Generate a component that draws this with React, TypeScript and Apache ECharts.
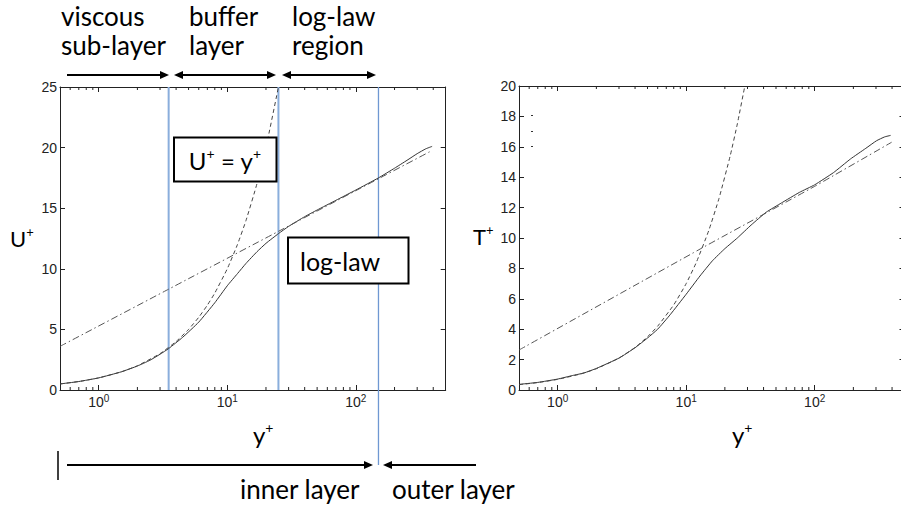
import React, { useEffect, useRef } from 'react';
import * as echarts from 'echarts';

// ---------- data ----------
// left panel: U+ vs y+
const uProfile: number[][] = [
  [0.5, 0.5], [0.7, 0.7], [1, 1], [1.5, 1.5], [2, 1.98], [2.5, 2.45], [3, 2.95], [3.5, 3.42],
  [4.5, 4.35], [6, 5.6], [8, 7.2], [10, 8.6], [12, 9.6], [14, 10.45], [17, 11.4], [20, 12.1],
  [25, 12.9], [30, 13.5], [40, 14.3], [50, 14.85], [70, 15.65], [100, 16.5], [150, 17.5],
  [200, 18.3], [250, 18.95], [300, 19.5], [350, 19.9], [392, 20.1],
];
const uViscous: number[][] = [
  [0.5, 0.5], [0.7, 0.7], [1, 1], [1.5, 1.5], [2, 2], [3, 3], [4, 4], [5, 5], [6, 6], [7, 7],
  [8, 8], [10, 10], [12, 12], [14, 14], [17, 17], [20, 20], [25, 25],
];
const uLogLaw: number[][] = [
  [0.5, 3.6], [3.5, 8.32], [25, 13.09], [150, 17.43], [390, 19.75],
];
// right panel: T+ vs y+
const tProfile: number[][] = [
  [0.5, 0.37], [0.7, 0.5], [1, 0.72], [1.3, 0.95], [1.6, 1.12], [2, 1.42], [3, 2.1], [4, 2.78],
  [5, 3.42], [6, 4.0], [7.5, 4.95], [10, 6.3], [12.8, 7.5], [16, 8.5], [20, 9.3], [25, 10.0],
  [32, 10.85], [42, 11.7], [55, 12.3], [76, 13.0], [100, 13.5], [140, 14.3], [190, 15.2],
  [250, 15.9], [303, 16.4], [350, 16.65], [390, 16.75],
];
const tViscous: number[][] = [
  [0.5, 0.35], [0.7, 0.49], [1, 0.7], [1.5, 1.05], [2, 1.4], [3, 2.1], [4, 2.8], [5, 3.5],
  [6, 4.2], [8, 5.6], [10, 7], [12, 8.4], [15, 10.5], [18, 12.6], [22, 15.4], [25, 17.5], [28.6, 20],
];
const tLogLaw: number[][] = [
  [0.5, 2.63], [13, 9.3], [100, 13.4], [397, 16.3],
];
// region boundaries (y+) drawn as blue verticals on the left panel
const regionBounds: number[] = [3.5, 25, 150];
// minor log ticks
const minorTicks: number[] = [0.6, 0.7, 0.8, 0.9, 2, 3, 4, 5, 6, 7, 8, 9, 20, 30, 40, 50, 60, 70, 80, 90, 200, 300, 400];
const xRange: number[] = [0.5, 500];
const uRange: number[] = [0, 25, 5];
const tRange: number[] = [0, 20, 2];

// ---------- styling ----------
const FONT = 'Lato, "Open Sans", sans-serif';
const TICKFONT = '"Liberation Sans", Arial, sans-serif';
const AX = '#222';
const CURVE = '#333';

function xAxis(gridIndex: number, position: string, labels: boolean) {
  return {
    type: 'log', logBase: 10, min: xRange[0], max: xRange[1], gridIndex, position,
    axisLine: { show: true, onZero: false, lineStyle: { color: AX, width: 1 } },
    axisTick: { show: true, inside: true, length: 5, lineStyle: { color: AX } },
    splitLine: { show: false },
    axisLabel: labels ? {
      show: true, margin: 3, interval: 0, showMinLabel: false, showMaxLabel: false,
      formatter: (v: number) => {
        const l = Math.log10(v);
        const e = Math.round(l);
        if (Math.abs(l - e) > 1e-6) return '';
        return `{b|10}{s|${e}}`;
      },
      rich: {
        b: { fontSize: 14, fontFamily: TICKFONT, color: AX, lineHeight: 18 },
        s: { fontSize: 10, fontFamily: TICKFONT, color: AX, verticalAlign: 'top', lineHeight: 10 },
      },
    } : { show: false },
  };
}

function yAxis(gridIndex: number, position: string, range: number[], labels: boolean) {
  return {
    type: 'value', gridIndex, position, min: range[0], max: range[1], interval: range[2],
    axisLine: { show: true, onZero: false, lineStyle: { color: AX, width: 1 } },
    axisTick: { show: true, inside: true, length: 5, lineStyle: { color: AX } },
    splitLine: { show: false },
    axisLabel: labels ? { show: true, margin: 3, fontSize: 14, fontFamily: TICKFONT, color: AX } : { show: false },
  };
}

function minorTickSeries(xi: number, yi: number, ymax: number) {
  return {
    type: 'custom', xAxisIndex: xi, yAxisIndex: yi, silent: true, clip: false, z: 5,
    data: minorTicks.map((v) => [v, 0]),
    renderItem: (_p: any, api: any) => {
      const v = api.value(0);
      const b = api.coord([v, 0]);
      const t = api.coord([v, ymax]);
      return {
        type: 'group',
        children: [
          { type: 'line', shape: { x1: b[0], y1: b[1], x2: b[0], y2: b[1] - 3 }, style: { stroke: AX, lineWidth: 1 } },
          { type: 'line', shape: { x1: t[0], y1: t[1], x2: t[0], y2: t[1] + 3 }, style: { stroke: AX, lineWidth: 1 } },
        ],
      };
    },
  };
}

function curve(xi: number, yi: number, data: number[][], type: any, color: string) {
  return {
    type: 'line', xAxisIndex: xi, yAxisIndex: yi, data, symbol: 'none', showSymbol: false,
    smooth: 0.15, silent: true, z: 3,
    lineStyle: { color, width: 1, type },
  };
}

function arrow(x1: number, x2: number, y: number, left: boolean, right: boolean) {
  const els: any[] = [];
  const hl = 9, hh = 4;
  els.push({ type: 'line', z: 100, shape: { x1: left ? x1 + hl - 1 : x1, y1: y, x2: right ? x2 - hl + 1 : x2, y2: y }, style: { stroke: '#000', lineWidth: 2 } });
  if (left) els.push({ type: 'polygon', z: 100, shape: { points: [[x1, y], [x1 + hl, y - hh], [x1 + hl, y + hh]] }, style: { fill: '#000' } });
  if (right) els.push({ type: 'polygon', z: 100, shape: { points: [[x2, y], [x2 - hl, y - hh], [x2 - hl, y + hh]] }, style: { fill: '#000' } });
  return els;
}

function label(x: number, y: number, text: string, size = 26, align = 'left') {
  return { type: 'text', z: 101, x, y, style: { text, font: `${size}px ${FONT}`, fill: '#000', align, verticalAlign: 'middle' } };
}

function supLabel(x: number, y: number, text: string, size: number, align = 'left') {
  return {
    type: 'text', z: 101, x, y,
    style: {
      text, align, verticalAlign: 'middle',
      rich: {
        a: { fontSize: size, fontFamily: FONT, fill: '#000', lineHeight: size + 4 },
        s: { fontSize: Math.round(size * 0.6), fontFamily: FONT, fill: '#000', verticalAlign: 'top', lineHeight: Math.round(size * 0.6) },
      },
    },
  };
}

function box(x: number, y: number, w: number, h: number) {
  return { type: 'rect', z: 100, shape: { x, y, width: w, height: h }, style: { fill: '#fff', stroke: '#000', lineWidth: 2 } };
}

export default function App() {
  const ref = useRef<HTMLDivElement>(null);
  useEffect(() => {
    if (!ref.current) return;
    const chart = echarts.init(ref.current, null, { renderer: 'svg' });
    const blueStyles = [
      { stroke: '#8aaedc', lineWidth: 2 },
      { stroke: '#8aaedc', lineWidth: 2 },
      { stroke: '#6f98d2', lineWidth: 1.3 },
    ];
    const option: any = {
      animation: false,
      backgroundColor: '#fff',
      grid: [
        { left: 60, top: 87, width: 385.7, height: 303 },
        { left: 519, top: 86, width: 385.5, height: 304 },
      ],
      xAxis: [xAxis(0, 'bottom', true), xAxis(0, 'top', false), xAxis(1, 'bottom', true), xAxis(1, 'top', false)],
      yAxis: [yAxis(0, 'left', uRange, true), yAxis(0, 'right', uRange, false), yAxis(1, 'left', tRange, true), yAxis(1, 'right', tRange, false)],
      series: [
        {
          type: 'custom', xAxisIndex: 0, yAxisIndex: 0, silent: true, clip: false, z: 2,
          data: regionBounds.map((v) => [v, 0]),
          renderItem: (p: any, api: any) => {
            const v = api.value(0);
            const b = api.coord([v, uRange[0]]);
            const t = api.coord([v, uRange[1]]);
            const ext = p.dataIndex === 2 ? 75 : 0;
            return { type: 'line', shape: { x1: b[0], y1: t[1], x2: b[0], y2: b[1] + ext }, style: blueStyles[p.dataIndex] };
          },
        },
        curve(0, 0, uProfile, 'solid', CURVE),
        curve(0, 0, uViscous, [4, 3], '#444'),
        curve(0, 0, uLogLaw, [7, 3, 1.5, 3], '#555'),
        curve(2, 2, tProfile, 'solid', CURVE),
        curve(2, 2, tViscous, [4, 3], '#444'),
        curve(2, 2, tLogLaw, [7, 3, 1.5, 3], '#555'),
        minorTickSeries(0, 0, uRange[1]),
        minorTickSeries(2, 2, tRange[1]),
      ],
      graphic: [
        // region headings
        label(61, 16, 'viscous'),
        label(61, 45, 'sub-layer'),
        label(189, 16, 'buffer'),
        label(189, 45, 'layer'),
        label(292, 16, 'log-law'),
        label(292, 45, 'region'),
        ...arrow(67, 169, 75, false, true),
        ...arrow(174, 276, 75, true, true),
        ...arrow(282, 376, 75, true, true),
        // axis titles
        supLabel(10, 238, '{a|U}{s|+}', 22),
        supLabel(473, 236, '{a|T}{s|+}', 22),
        supLabel(253, 434, '{a|y}{s|+}', 24),
        supLabel(732, 434, '{a|y}{s|+}', 24),
        // boxes
        box(174, 137.5, 102.5, 44),
        supLabel(225, 160, '{a|U}{s|+}{a| = y}{s|+}', 24, 'center'),
        box(288, 237.5, 120.5, 46),
        label(300, 261, 'log-law', 25),
        // bottom annotations
        { type: 'line', z: 100, shape: { x1: 58, y1: 451, x2: 58, y2: 480 }, style: { stroke: '#000', lineWidth: 1.5 } },
        ...arrow(67, 373, 465, false, true),
        ...arrow(383, 476, 465, true, false),
        label(240, 489, 'inner layer'),
        label(392, 489, 'outer layer'),
        // leftover legend marks in the right panel
        { type: 'line', z: 100, shape: { x1: 531, y1: 115.5, x2: 533, y2: 115.5 }, style: { stroke: '#333', lineWidth: 1 } },
        { type: 'line', z: 100, shape: { x1: 531, y1: 131.5, x2: 533, y2: 131.5 }, style: { stroke: '#333', lineWidth: 1 } },
        { type: 'line', z: 100, shape: { x1: 531, y1: 146.5, x2: 533, y2: 146.5 }, style: { stroke: '#333', lineWidth: 1 } },
      ],
    };
    chart.setOption(option);
    return () => chart.dispose();
  }, []);
  return (
    <div style={{ position: 'absolute', left: 0, top: 0, width: 901, height: 508, overflow: 'hidden', background: '#fff' }}>
      <div ref={ref} style={{ width: 912, height: 508 }} />
    </div>
  );
}
